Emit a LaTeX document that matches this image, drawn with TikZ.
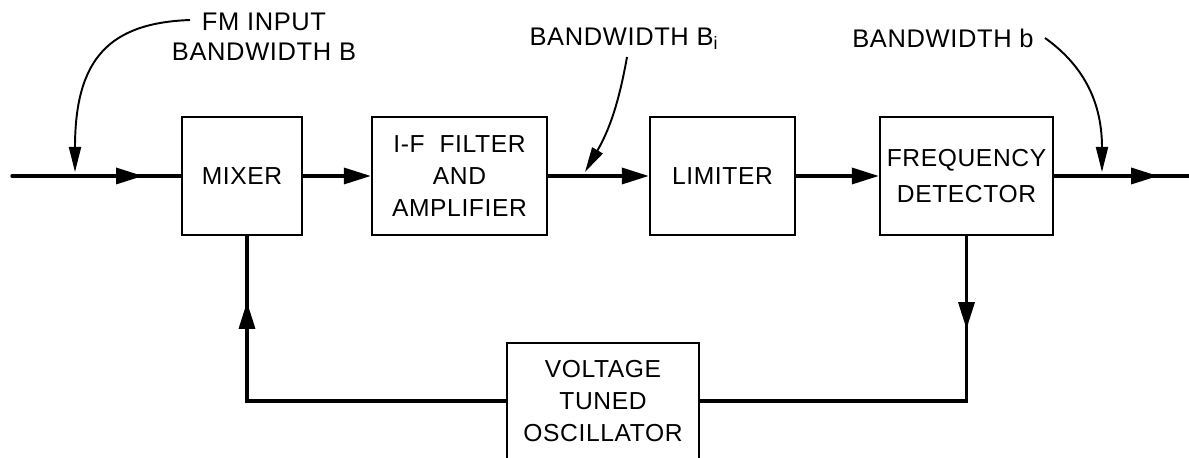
\documentclass[tikz,border=0pt]{standalone}
\usepackage{fontspec}
\setmainfont{Liberation Sans}[LetterSpace=2.5]
\usepackage{tikz}
\usetikzlibrary{arrows.meta,positioning,calc,decorations.markings}

\begin{document}
\begin{tikzpicture}[
	blk/.style={draw,line width=1.3pt,minimum height=2.36cm,align=center,font=\fontsize{14}{18}\selectfont,inner sep=0pt},
	lbl/.style={align=center,font=\fontsize{14.5}{17}\selectfont,inner sep=0pt},
	sig/.style={line width=1.9pt,line cap=round},
	tip/.style={sig,-{Triangle[length=0.54cm,width=0.32cm]}},
	midtip/.style={sig,postaction={decorate},decoration={markings,mark=at position #1 with {\arrow{Triangle[length=0.54cm,width=0.32cm]}}}},
	note/.style={line width=1.1pt,-{Triangle[length=0.5cm,width=0.24cm]}}
	]
	\useasboundingbox (0,0) rectangle (23.78,9.16);
	% blocks
	\node[blk,minimum width=2.4cm] (mix) at (4.84,5.64) {MIXER};
	\node[blk,minimum width=3.5cm] (ifa) at (9.19,5.64) {I-F\ \ FILTER\\AND\\AMPLIFIER};
	\node[blk,minimum width=2.9cm] (lim) at (14.45,5.64) {LIMITER};
	\node[blk,minimum width=3.46cm] (fd) at (19.33,5.64) {FREQUENCY\\[3pt]DETECTOR};
	\node[blk,minimum width=3.84cm,minimum height=2.32cm] (vto) at (12.06,1.14) {VOLTAGE\\TUNED\\OSCILLATOR};
	% labels
	\node[lbl] (fmin) at (5.28,8.42) {FM INPUT\\BANDWIDTH B};
	\node[lbl] (bwi) at (12.48,8.38) {BANDWIDTH B\textsubscript{i}};
	\node[lbl] (bwo) at (18.86,8.40) {BANDWIDTH b};
	\coordinate (in) at (0.24,5.64);
	\coordinate (out) at (23.78,5.64);
	\coordinate (n1) at (3.8,8.76);
	\coordinate (t1) at (1.5,5.72);
	\coordinate (n2) at (12.54,8.02);
	\coordinate (t2) at (11.7,5.72);
	\coordinate (n3) at (20.9,8.4);
	\coordinate (t3) at (22.04,5.72);
	% signal path
	\draw[midtip=2.62cm] (in) -- (mix);
	\draw[tip] (mix) -- (ifa);
	\draw[tip] (ifa) -- (lim);
	\draw[tip] (lim) -- (fd);
	\draw[midtip=2.08cm] (fd) -- (out);
	% feedback loop
	\draw[midtip=1.86cm] (fd) |- (vto);
	\draw[midtip=7.16cm] (vto) -| ([xshift=0.1cm]mix.south);
	% bandwidth pointers
	\draw[note] (n1) .. controls (2.2,8.7) and (1.5,8.0) .. (t1);
	\draw[note] (n2) to[bend left=10] (t2);
	\draw[note] (n3) .. controls (21.6,7.9) and (22.04,7.2) .. (t3);
\end{tikzpicture}
\end{document}
